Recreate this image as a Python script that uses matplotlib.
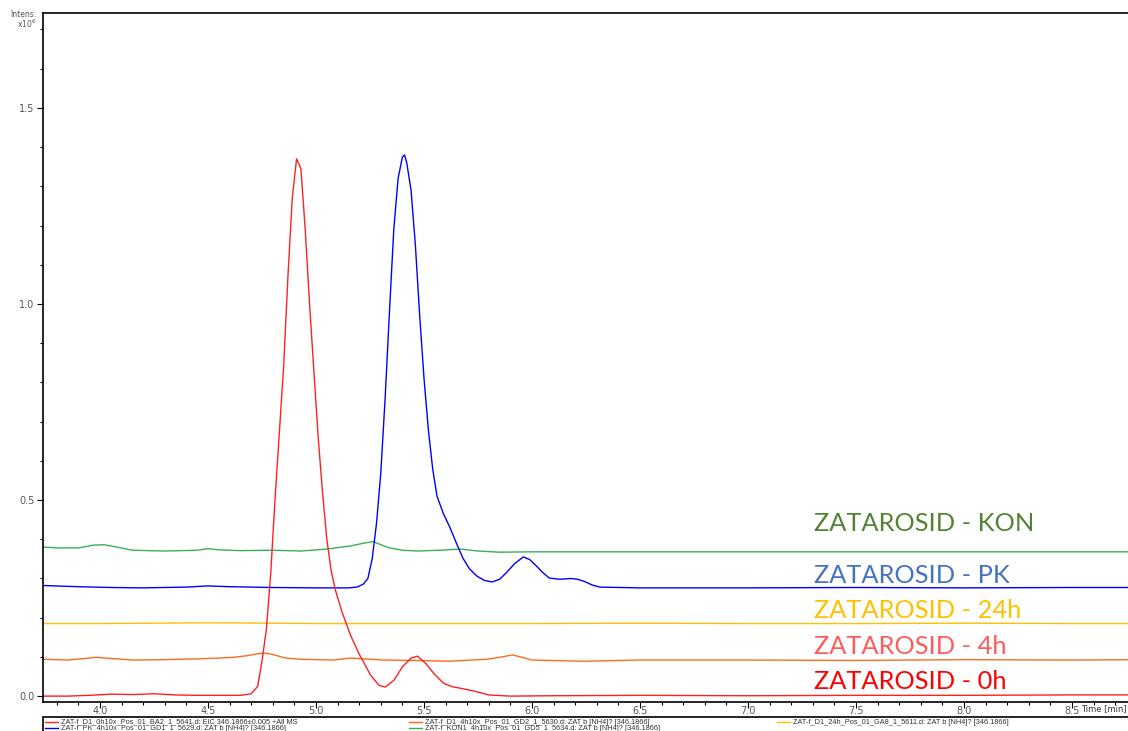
import matplotlib
matplotlib.use("Agg")
import matplotlib.pyplot as plt
from matplotlib.lines import Line2D
from matplotlib.patches import Rectangle
from matplotlib.ticker import MultipleLocator

# chromatogram traces (time in min, intensity x10^6)
t_0h = [3.74, 3.85, 3.95, 4.05, 4.15, 4.25, 4.35, 4.45, 4.55, 4.65, 4.70, 4.73, 4.75, 4.77,
        4.79, 4.81, 4.83, 4.85, 4.87, 4.89, 4.91, 4.93, 4.95, 4.97, 4.99, 5.01, 5.03, 5.05,
        5.07, 5.09, 5.12, 5.16, 5.20, 5.25, 5.29, 5.32, 5.36, 5.40, 5.44, 5.47, 5.51, 5.55,
        5.59, 5.63, 5.67, 5.73, 5.80, 5.90, 6.10, 6.50, 7.00, 7.50, 8.00, 8.50, 8.80]
i_0h = [0.000, 0.000, 0.002, 0.005, 0.004, 0.006, 0.003, 0.002, 0.002, 0.002, 0.006, 0.025,
        0.09, 0.17, 0.31, 0.50, 0.67, 0.84, 1.07, 1.27, 1.37, 1.345, 1.19, 1.00, 0.83, 0.66,
        0.52, 0.40, 0.32, 0.27, 0.215, 0.155, 0.107, 0.056, 0.028, 0.023, 0.040, 0.075, 0.097,
        0.102, 0.082, 0.055, 0.033, 0.024, 0.020, 0.013, 0.003, 0.000, 0.001, 0.002, 0.001,
        0.002, 0.002, 0.003, 0.003]

t_pk = [3.74, 3.90, 4.05, 4.20, 4.40, 4.50, 4.60, 4.80, 5.00, 5.15, 5.19, 5.22, 5.24, 5.26,
        5.28, 5.30, 5.32, 5.34, 5.36, 5.38, 5.40, 5.41, 5.42, 5.44, 5.46, 5.48, 5.50, 5.52,
        5.54, 5.56, 5.59, 5.62, 5.65, 5.68, 5.71, 5.745, 5.78, 5.815, 5.85, 5.88, 5.92, 5.96,
        5.99, 6.02, 6.05, 6.08, 6.13, 6.18, 6.21, 6.24, 6.28, 6.315, 6.50, 7.00, 7.50, 8.00,
        8.50, 8.80]
i_pk = [0.282, 0.279, 0.277, 0.276, 0.278, 0.281, 0.279, 0.277, 0.276, 0.276, 0.278, 0.286,
        0.300, 0.350, 0.440, 0.570, 0.760, 0.980, 1.190, 1.320, 1.375, 1.380, 1.360, 1.290,
        1.150, 0.970, 0.810, 0.680, 0.580, 0.510, 0.465, 0.430, 0.390, 0.352, 0.325, 0.306,
        0.295, 0.291, 0.298, 0.314, 0.338, 0.355, 0.348, 0.332, 0.315, 0.301, 0.298, 0.300,
        0.298, 0.293, 0.283, 0.278, 0.276, 0.276, 0.277, 0.276, 0.277, 0.277]

t_kon = [3.74, 3.80, 3.90, 3.97, 4.02, 4.08, 4.15, 4.30, 4.45, 4.50, 4.55, 4.65, 4.80, 4.93,
         5.05, 5.16, 5.22, 5.265, 5.30, 5.34, 5.40, 5.47, 5.57, 5.67, 5.75, 5.85, 6.00, 6.50,
         7.00, 7.50, 8.00, 8.50, 8.80]
i_kon = [0.380, 0.378, 0.378, 0.385, 0.386, 0.380, 0.372, 0.370, 0.372, 0.376, 0.373, 0.371,
         0.372, 0.370, 0.375, 0.383, 0.390, 0.394, 0.386, 0.378, 0.372, 0.370, 0.372, 0.375,
         0.370, 0.367, 0.368, 0.368, 0.368, 0.368, 0.368, 0.368, 0.368]

t_24h = [3.74, 4.00, 4.50, 4.80, 5.00, 5.50, 6.00, 6.50, 7.00, 7.50, 8.00, 8.50, 8.80]
i_24h = [0.185, 0.185, 0.187, 0.186, 0.185, 0.185, 0.185, 0.186, 0.185, 0.185, 0.186, 0.185, 0.185]

t_4h = [3.74, 3.85, 3.93, 3.98, 4.05, 4.15, 4.30, 4.45, 4.55, 4.62, 4.68, 4.73, 4.76, 4.80,
        4.86, 4.93, 5.08, 5.16, 5.22, 5.31, 5.45, 5.62, 5.72, 5.79, 5.85, 5.91, 5.96, 6.00,
        6.24, 6.50, 7.00, 7.50, 8.00, 8.50, 8.80]
i_4h = [0.094, 0.092, 0.096, 0.099, 0.096, 0.092, 0.093, 0.095, 0.097, 0.099, 0.103, 0.108,
        0.110, 0.106, 0.097, 0.094, 0.092, 0.097, 0.095, 0.092, 0.091, 0.089, 0.092, 0.094,
        0.099, 0.105, 0.098, 0.092, 0.089, 0.092, 0.092, 0.091, 0.093, 0.092, 0.093]

legend_labels = [
    "ZAT-f_D1_0h10x_Pos_01_BA2_1_5641.d: EIC 346.1866±0.005 +All MS",
    "ZAT-f_PK_4h10x_Pos_01_GD1_1_5629.d: ZAT b [NH4]? [346.1866]",
    "ZAT-f_D1_4h10x_Pos_01_GD2_1_5630.d: ZAT b [NH4]? [346.1866]",
    "ZAT-f_KON1_4h10x_Pos_01_GD5_1_5634.d: ZAT b [NH4]? [346.1866]",
    "ZAT-f_D1_24h_Pos_01_GA8_1_5611.d: ZAT b [NH4]? [346.1866]",
]
annot_labels = ["ZATAROSID - KON", "ZATAROSID - PK", "ZATAROSID - 24h",
                "ZATAROSID - 4h", "ZATAROSID - 0h"]
annot_y = [0.440, 0.307, 0.218, 0.126, 0.037]
annot_colors = ["#548235", "#4472C4", "#FFC000", "#FF5B5B", "#FF0000"]

W, H = 1128, 731
fig = plt.figure(figsize=(W / 100, H / 100), dpi=100)
ax = fig.add_axes([43 / W, 1 - 702 / H, (1134 - 43) / W, (702 - 13) / H])

l_kon, = ax.plot(t_kon, i_kon, color="#3DAE5A", lw=1.0)
l_pk, = ax.plot(t_pk, i_pk, color="#0000FF", lw=1.0)
l_24h, = ax.plot(t_24h, i_24h, color="#FFC000", lw=1.0)
l_4h, = ax.plot(t_4h, i_4h, color="#FF6A20", lw=1.0)
l_0h, = ax.plot(t_0h, i_0h, color="#FF2020", lw=1.0)

ax.set_xlim(3.736, 8.787)
ax.set_ylim(-0.015, 1.742)
ax.xaxis.set_major_locator(MultipleLocator(0.5))
ax.xaxis.set_minor_locator(MultipleLocator(0.1))
ax.yaxis.set_major_locator(MultipleLocator(0.5))
ax.yaxis.set_minor_locator(MultipleLocator(0.1))
ax.xaxis.set_major_formatter(plt.FormatStrFormatter("%.1f"))
ax.yaxis.set_major_formatter(plt.FormatStrFormatter("%.1f"))
ax.tick_params(which="major", length=4, width=0.8, labelsize=7, labelcolor="#555555")
ax.tick_params(which="minor", length=2.5, width=0.8)
ax.tick_params(axis="x", which="major", pad=-0.8)
ax.tick_params(axis="y", which="major", pad=2)
for s in ax.spines.values():
    s.set_linewidth(1.2)

fig.text(36 / W, 1 - 10 / H, "Intens.\nx10$^6$", fontsize=5.5, color="#555555",
         ha="right", va="top", linespacing=0.9)
fig.text(1127 / W, 1 - 709 / H, "Time [min]", fontsize=6, color="#333333",
         ha="right", va="center")

for lab, y, c in zip(annot_labels, annot_y, annot_colors):
    ax.text(7.305, y, lab, color=c, fontsize=18.3, family="Lato", va="center", ha="left")

# legend box below the plot, drawn by hand to match the column layout
fig.add_artist(Rectangle((43 / W, -0.05), 1.1, 1 - 717 / H + 0.05, transform=fig.transFigure,
                         fill=False, edgecolor="black", lw=1.2))
handles = [l_0h, l_pk, l_4h, l_kon, l_24h]
col_x = [45, 45, 409, 409, 777]
row_y = [722, 728, 722, 728, 722]
for h, lab, cx, ry in zip(handles, legend_labels, col_x, row_y):
    fig.add_artist(Line2D([cx / W, (cx + 13) / W], [1 - ry / H, 1 - ry / H],
                          transform=fig.transFigure, color=h.get_color(), lw=1.0))
    fig.text((cx + 16) / W, 1 - ry / H, lab, fontsize=5.3, family="Liberation Sans",
             color="#333333", va="center", ha="left")

fig.savefig("out.png", dpi=100)
